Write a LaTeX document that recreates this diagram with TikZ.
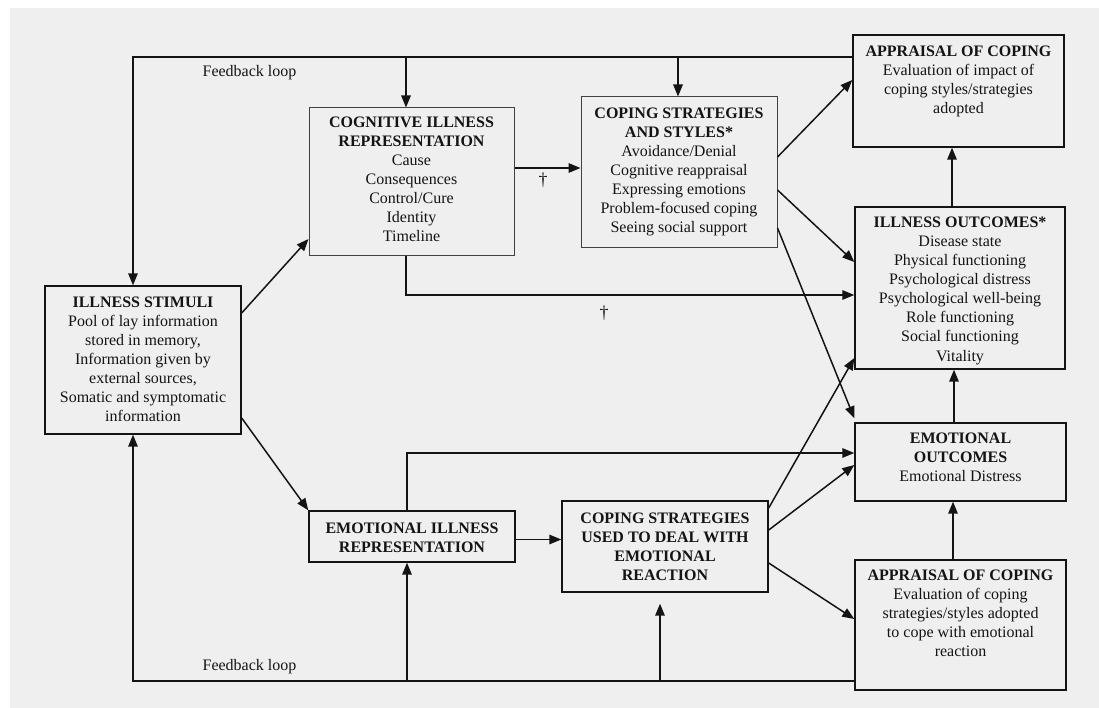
\documentclass[tikz,border=0pt]{standalone}
\usepackage{fontspec}
\setmainfont{Liberation Serif}
\usetikzlibrary{arrows.meta,calc}
\definecolor{bggray}{HTML}{EFEFEF}
\definecolor{ink}{HTML}{141414}
\newcommand{\bxtext}[4]{\parbox[c][#1][t]{#2}{\centering\vspace*{#3}\strut #4}}

\begin{document}
\begin{tikzpicture}[x=1pt,y=1pt,
  box/.style={draw=ink, line width=1.4pt, fill=bggray, inner sep=0pt, font=\fontsize{16}{19}\selectfont, text=ink},
  softbox/.style={box, draw=black!75, line width=1pt},
  conn/.style={draw=ink, line width=1.5pt},
  arr/.style={conn, -{Triangle[length=12pt,width=9.5pt]}},
  lbl/.style={font=\fontsize{16}{19}\selectfont, text=ink, inner sep=0pt},
  dag/.style={font=\fontsize{18}{20}\selectfont, text=ink, inner sep=0pt}]

\useasboundingbox (0,0) rectangle (1099,-708);
\fill[white] (0,0) rectangle (1099,-708);
\fill[bggray] (10,-8) rectangle (1099,-708);

% boxes
\node[box] (stim) at (143,-360) {\bxtext{148pt}{196pt}{8.3pt}{{\bfseries ILLNESS STIMULI}\\Pool of lay information\\stored in memory,\\Information given by\\external sources,\\Somatic and symptomatic\\information}};
\node[softbox] (cog) at (411.5,-182) {\bxtext{148pt}{205pt}{6.7pt}{{\bfseries COGNITIVE ILLNESS\\REPRESENTATION}\\Cause\\Consequences\\Control/Cure\\Identity\\Timeline}};
\node[softbox] (cs) at (679,-172.5) {\bxtext{151pt}{196pt}{8.3pt}{{\bfseries COPING STRATEGIES\\AND STYLES*}\\Avoidance/Denial\\Cognitive reappraisal\\Expressing emotions\\Problem-focused coping\\Seeing social support}};
\node[box] (ap1) at (958.5,-91) {\bxtext{112pt}{211pt}{8.7pt}{{\bfseries APPRAISAL OF COPING}\\Evaluation of impact of\\coping styles/strategies\\adopted}};
\node[box] (io) at (960,-288) {\bxtext{162pt}{210pt}{7.7pt}{{\bfseries ILLNESS OUTCOMES*}\\Disease state\\Physical functioning\\Psychological distress\\Psychological well-being\\Role functioning\\Social functioning\\Vitality}};
\node[box] (eo) at (960.5,-462) {\bxtext{78pt}{211pt}{7.3pt}{{\bfseries EMOTIONAL\\OUTCOMES}\\Emotional Distress}};
\node[box] (ap2) at (960.5,-625) {\bxtext{130pt}{211pt}{7pt}{{\bfseries APPRAISAL OF COPING}\\Evaluation of coping\\strategies/styles adopted\\to cope with emotional\\reaction}};
\node[box] (cu) at (665,-546.5) {\bxtext{91pt}{206pt}{9.3pt}{{\bfseries COPING STRATEGIES\\USED TO DEAL WITH\\EMOTIONAL\\REACTION}}};
\node[box] (er) at (412,-536.5) {\bxtext{51pt}{206pt}{9.3pt}{{\bfseries EMOTIONAL ILLNESS\\REPRESENTATION}}};

% top feedback loop
\coordinate (tl) at (133,-57);
\coordinate (b1) at (406,-57);
\coordinate (b2) at (678,-57);
\draw[arr] (ap1.west |- tl) -- (tl) -- (tl |- stim.north);
\draw[arr] (b1) -- (b1 |- cog.north);
\draw[arr] (b2) -- (b2 |- cs.north);
\node[lbl] (fb1) at (249.5,-73) {Feedback loop};

% cognitive paths
\draw[arr] ([yshift=14pt]cog.east) -- ([yshift=14pt]cog.east -| cs.west);
\node[dag] (d1) at (543,-180) {†};
\coordinate (cb) at (406,-295);
\draw[arr] (cb |- cog.south) -- (cb) -- (cb -| io.west);
\node[dag] (d2) at (604,-313) {†};

% from stimuli
\draw[arr] ([yshift=47pt]stim.east) -- ([yshift=-57pt]cog.west);
\draw[arr] ([yshift=-58pt]stim.east) -- (er.north west);

% from coping strategies and styles
\draw[arr] ([yshift=15.5pt]cs.east) -- ([yshift=11pt]ap1.west);
\draw[arr] ([yshift=-17.5pt]cs.east) -- ([yshift=26pt]io.west);
\draw[arr] ([yshift=-55.5pt]cs.east) -- ([yshift=4pt]eo.north west);

% right column
\draw[arr] ([xshift=-8pt]io.north) -- ([xshift=-8pt]io.north |- ap1.south);
\draw[arr] ([xshift=-6.5pt]eo.north) -- ([xshift=-6.5pt]eo.north |- io.south);
\draw[arr] ([xshift=-7.5pt]ap2.north) -- ([xshift=-7.5pt]ap2.north |- eo.south);

% emotional paths
\draw[arr] ([yshift=-3pt]er.east) -- ([yshift=-3pt]er.east -| cu.west);
\coordinate (et) at (407,-453);
\draw[arr] (et |- er.north) -- (et) -- (et -| eo.west);
\draw[arr] ([yshift=38.5pt]cu.east) -- ([yshift=-70pt]io.west);
\draw[arr] ([yshift=16.5pt]cu.east) -- ([yshift=-3pt]eo.west);
\draw[arr] ([yshift=-16.5pt]cu.east) -- ([yshift=6pt]ap2.west);

% bottom feedback loop
\coordinate (bl) at (133,-681);
\coordinate (b3) at (407,-681);
\coordinate (b4) at (660,-681);
\draw[arr] (ap2.west |- bl) -- (bl) -- (bl |- stim.south);
\draw[arr] (b3) -- (b3 |- er.south);
\draw[arr, shorten >=11pt] (b4) -- (b4 |- cu.south);
\node[lbl] (fb2) at (249.5,-667) {Feedback loop};
\end{tikzpicture}
\end{document}
